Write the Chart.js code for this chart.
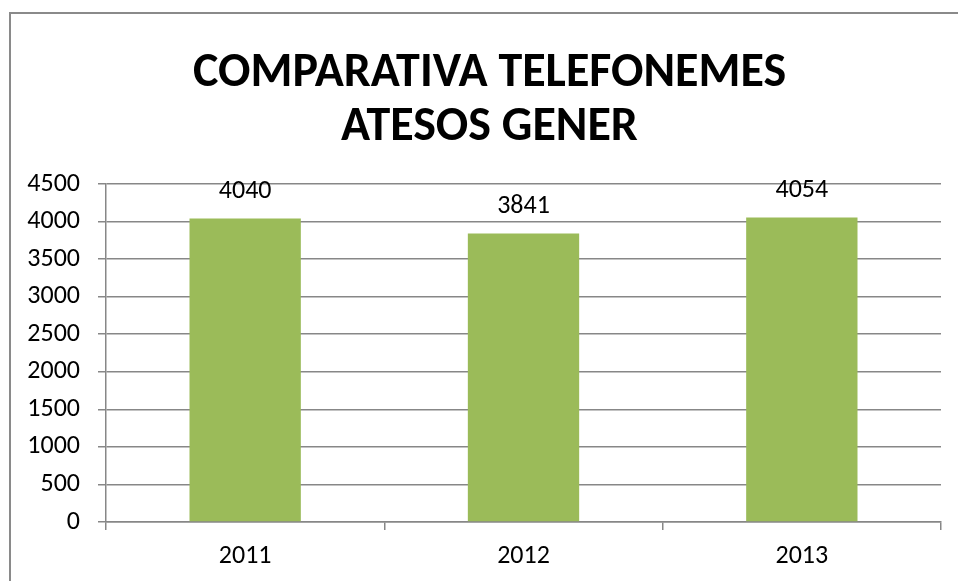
<!DOCTYPE html>
<html>
<head>
<meta charset="utf-8">
<script src="https://cdn.jsdelivr.net/npm/chart.js@4/dist/chart.umd.min.js"></script>
<style>
  html, body { margin: 0; padding: 0; background: #fff; }
  #wrap { position: relative; width: 958px; height: 581px; overflow: hidden; }
  #frame { position: absolute; left: 9px; top: 12px; width: 1000px; height: 700px;
           border-left: 2px solid #8a8a8a; border-top: 2px solid #8a8a8a; }
  canvas { position: absolute; left: 0; top: 0; }
</style>
</head>
<body>
<div id="wrap">
  <div id="frame"></div>
  <canvas id="chart" width="958" height="581"></canvas>
</div>
<script>
// chart data
const titleLines = ['COMPARATIVA TELEFONEMES', 'ATESOS GENER'];
const years = ['2011', '2012', '2013'];
const calls = [4040, 3841, 4054];

const barColor = '#9BBB59';
const lineColor = '#878787';
const fontFamily = 'Carlito, Lato, sans-serif';

// Draw the value above each bar
const valueLabels = {
  id: 'valueLabels',
  afterDatasetsDraw(chart) {
    const ctx = chart.ctx;
    const meta = chart.getDatasetMeta(0);
    ctx.save();
    ctx.font = '26px ' + fontFamily;
    ctx.fillStyle = '#000';
    ctx.textAlign = 'center';
    ctx.textBaseline = 'middle';
    meta.data.forEach((bar, i) => {
      ctx.fillText(String(calls[i]), bar.x, bar.y - 27);
    });
    ctx.restore();
  }
};

// Title in the original sits a bit right of the canvas centre
const titleShift = {
  id: 'titleShift',
  afterLayout(chart) {
    if (chart.titleBlock) {
      chart.titleBlock.left += 19;
      chart.titleBlock.right += 19;
    }
  }
};

const canvas = document.getElementById('chart');
new Chart(canvas.getContext('2d'), {
  type: 'bar',
  data: {
    labels: years,
    datasets: [{
      data: calls,
      backgroundColor: barColor,
      borderWidth: 0,
      barPercentage: 0.4,
      categoryPercentage: 1
    }]
  },
  options: {
    responsive: false,
    animation: false,
    layout: { padding: { left: 0, right: 17, top: 0, bottom: 0 } },
    plugins: {
      legend: { display: false },
      tooltip: { enabled: false },
      title: {
        display: true,
        text: titleLines,
        color: '#000',
        font: { family: fontFamily, size: 48, weight: 'bold', lineHeight: 1.125 },
        padding: { top: 47, bottom: 29 }
      }
    },
    scales: {
      x: {
        grid: { drawOnChartArea: false, color: lineColor, lineWidth: 1.5, tickLength: 8 },
        border: { color: lineColor, width: 1.5 },
        ticks: { color: '#000', font: { family: fontFamily, size: 26 }, padding: 11 },
        afterFit(scale) { scale.height = 59; }
      },
      y: {
        min: 0,
        max: 4500,
        ticks: {
          stepSize: 500,
          color: '#000',
          font: { family: fontFamily, size: 26 },
          padding: 18,
          callback: (v) => String(v)
        },
        grid: { color: lineColor, lineWidth: 1.5, tickLength: 8 },
        border: { color: lineColor, width: 1.5 },
        afterFit(scale) { scale.width = 106; }
      }
    }
  },
  plugins: [valueLabels, titleShift]
});
</script>
</body>
</html>
